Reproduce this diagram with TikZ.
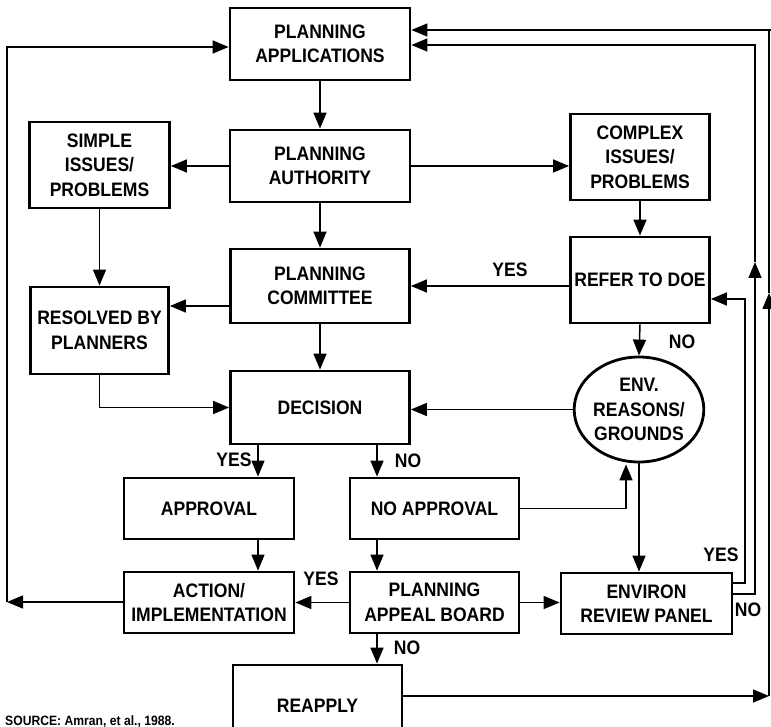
\documentclass[tikz,border=0pt]{standalone}
\usepackage{fontspec}
\setmainfont{Liberation Sans}[FakeStretch=0.9]
\usetikzlibrary{arrows.meta,shapes.geometric}
\begin{document}
\begin{tikzpicture}[x=1pt,y=-1pt,
  every node/.style={font=\fontsize{19.5}{24.5}\selectfont\bfseries},
  box/.style={draw, line width=2.8pt, align=center, inner sep=0pt},
  link/.style={line width=1.5pt},
  arr/.style={link, -{Triangle[length=16pt,width=13pt]}},
  lbl/.style={inner sep=0pt}
]
\useasboundingbox (0,0) rectangle (771,727);
\clip (0,0) rectangle (771,727);

% main column
\node[box, minimum width=180pt, minimum height=72pt] (app) at (320,44) {PLANNING\\APPLICATIONS};
\node[box, minimum width=180pt, minimum height=72pt] (auth) at (320,166) {PLANNING\\AUTHORITY};
\node[box, minimum width=179pt, minimum height=74pt] (comm) at (320,286) {PLANNING\\COMMITTEE};
\node[box, minimum width=179pt, minimum height=73pt] (dec) at (320,407.5) {DECISION};

% left column
\node[box, minimum width=140pt, minimum height=86pt] (simple) at (99.5,165) {SIMPLE\\ISSUES/\\PROBLEMS};
\node[box, minimum width=138pt, minimum height=87pt] (resolved) at (99.5,330.5) {RESOLVED BY\\PLANNERS};

% right column
\node[box, minimum width=139pt, minimum height=86pt] (complex) at (640,157) {COMPLEX\\ISSUES/\\PROBLEMS};
\node[box, minimum width=139pt, minimum height=86pt] (refer) at (640,280) {REFER TO DOE};
\node[draw, ellipse, line width=2.8pt, align=center, inner sep=0pt,
      minimum width=128pt, minimum height=105pt] (env) at (639,409.5) {ENV.\\REASONS/\\GROUNDS};

% lower rows
\node[box, minimum width=170pt, minimum height=61pt] (approval) at (209,508.5) {APPROVAL};
\node[box, minimum width=169pt, minimum height=61pt] (noapp) at (434.5,508.5) {NO APPROVAL};
\node[box, minimum width=170pt, minimum height=61pt] (action) at (209,602.5) {ACTION/\\IMPLEMENTATION};
\node[box, minimum width=169pt, minimum height=61pt] (appeal) at (434.5,602.5) {PLANNING\\APPEAL BOARD};
\node[box, minimum width=171pt, minimum height=61pt] (review) at (646.5,603.5) {ENVIRON\\REVIEW PANEL};
\node[box, minimum width=169pt, minimum height=82pt] (reapply) at (317.5,706) {REAPPLY};

% source note
\node[anchor=base west, inner sep=0pt, font=\fontsize{13.5}{16}\selectfont\bfseries] (src) at (5,725) {SOURCE: Amran, et al., 1988.};

% bend points
\coordinate (lcorner) at (7,602);
\coordinate (ltop) at (7,47);
\coordinate (yesR) at (745,583);
\coordinate (yesT) at (745,299);
\coordinate (noR) at (755,594);
\coordinate (noMid) at (755,262);
\coordinate (noT) at (755,45);
\coordinate (reR) at (769,696);
\coordinate (reMid) at (769,293);
\coordinate (reT) at (769,30);
\coordinate (naR) at (626,508.5);

% connectors
\draw[arr] (app.south) -- (auth.north);
\draw[arr] (auth.west) -- (simple.east |- auth.west);
\draw[arr] (auth.east) -- (complex.west |- auth.east);
\draw[arr] (simple.south) -- (resolved.north);
\draw[arr] (complex.south) -- (refer.north);
\draw[arr] (auth.south) -- (comm.north);
\draw[arr] (comm.west |- 0,306) -- (resolved.east |- 0,306);
\draw[arr] (refer.west |- comm.east) -- (comm.east);
\draw[arr] (comm.south) -- (dec.north);
\draw[arr] (resolved.south) -- (resolved.south |- dec.west) -- (dec.west);
\draw[arr] (refer.south) -- (env.north);
\draw[arr] (env.west) -- (env.west -| dec.east);
\draw[arr] (dec.south -| 258,0) -- (approval.north -| 258,0);
\draw[arr] (dec.south -| 377,0) -- (noapp.north -| 377,0);
\draw[arr] (approval.south -| 258,0) -- (action.north -| 258,0);
\draw[arr] (noapp.south -| 377,0) -- (appeal.north -| 377,0);
\draw[arr] (appeal.south -| 377,0) -- (reapply.north -| 377,0);
\draw[arr] (appeal.west) -- (action.east);
\draw[arr] (appeal.east) -- (review.west |- appeal.east);
\draw[arr] (noapp.east) -- (naR) -- ([xshift=-13pt,yshift=-1pt]env.south);
\draw[arr] (env.south) -- (review.north -| env.south);

% feedback loops on the right
\draw[arr] (review.east |- yesR) -- (yesR) -- (yesT) -- (refer.east |- yesT);
\draw[arr] (review.east |- noR) -- (noR) -- (noMid);
\draw[arr] (noMid) -- (noT) -- (app.east |- noT);
\draw[arr] (reapply.east |- reR) -- (reR);
\draw[arr] (reR) -- (reMid);
\draw[link] (reMid) -- (reT) -- (771,30);
\draw[arr] (reT) -- (app.east |- reT);

% feedback loop on the left
\draw[arr] (action.west |- lcorner) -- (lcorner);
\draw[arr] (lcorner) -- (ltop) -- (app.west |- ltop);

% branch labels
\node[lbl] (l1) at (510,270) {YES};
\node[lbl] (l2) at (682,342) {NO};
\node[lbl] (l3) at (234,460) {YES};
\node[lbl] (l4) at (408,461) {NO};
\node[lbl] (l5) at (321,579) {YES};
\node[lbl] (l6) at (407,648) {NO};
\node[lbl] (l7) at (721,555) {YES};
\node[lbl] (l8) at (748,610) {NO};
\end{tikzpicture}
\end{document}
